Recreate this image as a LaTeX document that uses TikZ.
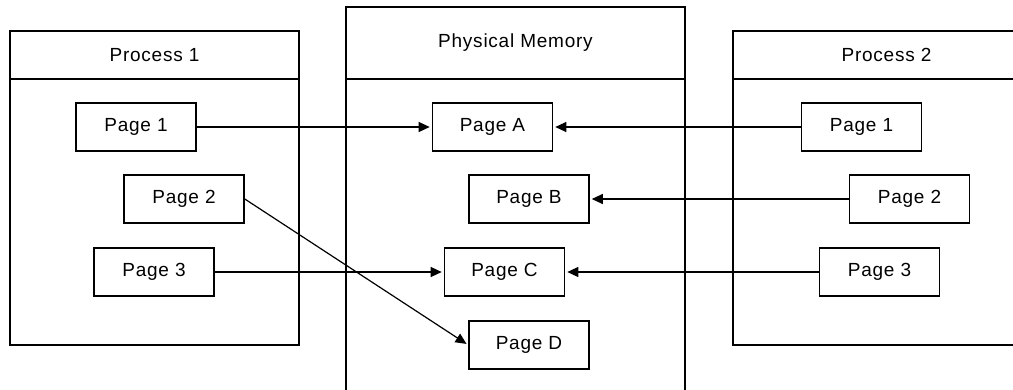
\documentclass[tikz,border=0pt]{standalone}
\usepackage{fontspec}
\setmainfont{Liberation Sans}[LetterSpace=4]
\usetikzlibrary{arrows.meta}

\begin{document}
\begin{tikzpicture}[
        x=1pt, y=-1pt,
        font=\fontsize{19}{22}\selectfont,
        panel/.style={draw, line width=1.6pt, minimum width=#1, inner sep=0pt},
        head/.style={draw, line width=1.6pt, minimum width=#1, inner sep=0pt},
        page/.style={draw, line width=1.6pt, minimum width=120pt, minimum height=48pt, inner sep=0pt},
        arrow/.style={-{Triangle[length=11pt, width=10pt]}, line width=1.2pt, shorten >=2pt}
    ]
    \clip (0,0) rectangle (1013,389);
    % Panels
    \node[panel=289pt, minimum height=314pt] (proc1) at (154.5,188) {};
    \node[head=289pt, minimum height=48pt] (proc1head) at (154.5,55) {Process 1};
    \node[panel=339pt, minimum height=413pt] (mem) at (515.5,213.5) {};
    \node[head=339pt, minimum height=72pt] (memhead) at (515.5,43) {Physical Memory};
    \node[panel=307pt, minimum height=314pt] (proc2) at (886.5,188) {};
    \node[head=307pt, minimum height=48pt] (proc2head) at (886.5,55) {Process 2};

    % Pages
    \node[page] (lpage1) at (136,127) {Page 1};
    \node[page] (lpage2) at (184,199) {Page 2};
    \node[page] (lpage3) at (154,272) {Page 3};
    \node[page] (pagea) at (492.5,127) {Page A};
    \node[page] (pageb) at (529,199) {Page B};
    \node[page] (pagec) at (504.5,272) {Page C};
    \node[page] (paged) at (529,345) {Page D};
    \node[page] (rpage1) at (861.5,127) {Page 1};
    \node[page] (rpage2) at (909.5,199) {Page 2};
    \node[page] (rpage3) at (879.5,272) {Page 3};

    \draw[arrow] (lpage1) -- (pagea);
    \draw[arrow] (lpage2.east) -- (paged.west);
    \draw[arrow] (lpage3) -- (pagec);
    \draw[arrow] (rpage1) -- (pagea);
    \draw[arrow] (rpage2) -- (pageb);
    \draw[arrow] (rpage3) -- (pagec);
\end{tikzpicture}
\end{document}
